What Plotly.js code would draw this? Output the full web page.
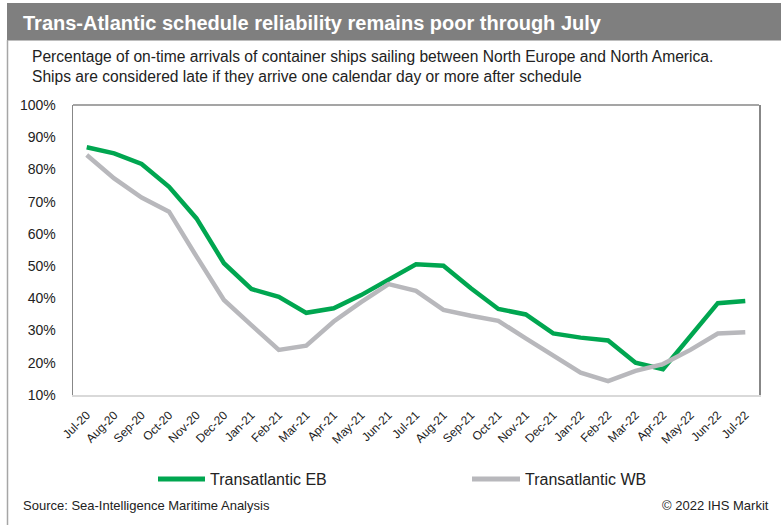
<!DOCTYPE html>
<html>
<head>
<meta charset="utf-8">
<script src="https://cdn.plot.ly/plotly-3.0.1.min.js"></script>
<style>
  html, body { margin: 0; padding: 0; background: #ffffff; }
  #chart { width: 781px; height: 527px; }
</style>
</head>
<body>
<div id="chart"></div>
<script>
// ---- Data ----
const months = ["Jul-20","Aug-20","Sep-20","Oct-20","Nov-20","Dec-20","Jan-21","Feb-21","Mar-21","Apr-21","May-21","Jun-21","Jul-21","Aug-21","Sep-21","Oct-21","Nov-21","Dec-21","Jan-22","Feb-22","Mar-22","Apr-22","May-22","Jun-22","Jul-22"];
const transatlanticEB = [86.9, 85.0, 81.7, 74.6, 64.8, 50.9, 42.9, 40.5, 35.5, 36.9, 41.0, 45.7, 50.6, 50.1, 43.1, 36.7, 35.0, 29.1, 27.8, 26.9, 20.0, 18.0, 28.1, 38.5, 39.2];
const transatlanticWB = [84.5, 77.2, 71.3, 66.9, 53.0, 39.5, 31.7, 24.0, 25.3, 32.8, 38.8, 44.4, 42.3, 36.4, 34.6, 33.0, 27.6, 22.2, 16.9, 14.3, 17.5, 19.6, 24.0, 29.1, 29.5];
const yTicks = [10, 20, 30, 40, 50, 60, 70, 80, 90, 100];
const seriesNames = ["Transatlantic EB", "Transatlantic WB"];
const seriesColors = ["#00a650", "#b8b8bc"];

// ---- Geometry helpers (pixel -> paper) ----
const W = 781, H = 527;
const L = 73, R = 759, T = 105, B = 395;
const px = x => (x - L) / (R - L);
const py = y => (B - y) / (B - T);

const FONT = "Liberation Sans, Arial, sans-serif";

const traces = [
  {
    x: months, y: transatlanticEB, type: "scatter", mode: "lines",
    name: seriesNames[0], showlegend: false,
    line: { color: seriesColors[0], width: 4.5 }
  },
  {
    x: months, y: transatlanticWB, type: "scatter", mode: "lines",
    name: seriesNames[1], showlegend: false,
    line: { color: seriesColors[1], width: 4.5 }
  }
];

// custom legend placement (Excel-style long line keys)
const legendKeys = [
  { x0: 158, x1: 205, tx: 208 },
  { x0: 472, x1: 520, tx: 523 }
];
const legendY = 479;

const layout = {
  width: W, height: H,
  margin: { l: L, r: W - R, t: T, b: H - B, pad: 0 },
  paper_bgcolor: "#ffffff",
  plot_bgcolor: "#ffffff",
  showlegend: false,
  font: { family: FONT, color: "#222222" },
  title: {
    text: "<b>Trans-Atlantic schedule reliability remains poor through July</b>",
    font: { family: FONT, size: 20, color: "#ffffff" },
    xref: "container", yref: "container",
    x: 23 / W, xanchor: "left",
    y: 1 - 22.5 / H, yanchor: "middle"
  },
  xaxis: {
    type: "category",
    range: [-0.5, months.length - 0.5],
    tickangle: -45,
    tickfont: { family: FONT, size: 12, color: "#222222" },
    showgrid: false, zeroline: false,
    showline: true, linecolor: "#d9d9d9", linewidth: 1.5,
    ticks: "outside", ticklen: 7, tickcolor: "rgba(0,0,0,0)",
    fixedrange: true
  },
  yaxis: {
    range: [10, 100],
    tickvals: yTicks,
    ticktext: yTicks.map(v => v + "%"),
    tickfont: { family: FONT, size: 14, color: "#222222" },
    showgrid: false, zeroline: false,
    showline: true, mirror: true, linecolor: "#878787", linewidth: 1.5,
    ticks: "outside", ticklen: 13, tickcolor: "rgba(0,0,0,0)",
    fixedrange: true
  },
  shapes: [
    // title bar
    { type: "rect", xref: "paper", yref: "paper",
      x0: px(7), x1: px(781), y0: py(40.5), y1: py(3),
      fillcolor: "#7f7f7f", line: { width: 0 }, layer: "below" },
    // left page border
    { type: "line", xref: "paper", yref: "paper",
      x0: px(7.5), x1: px(7.5), y0: py(40), y1: py(525),
      line: { color: "#a6a6a6", width: 1.5 } },
    // top plot frame
    { type: "line", xref: "paper", yref: "paper",
      x0: 0, x1: 1, y0: 1, y1: 1,
      line: { color: "#878787", width: 1.5 } }
  ].concat(legendKeys.map((k, i) => ({
      type: "line", xref: "paper", yref: "paper",
      x0: px(k.x0), x1: px(k.x1), y0: py(legendY), y1: py(legendY),
      line: { color: seriesColors[i], width: 5 }
  }))),
  annotations: [
    { text: "Percentage of on-time arrivals of container ships sailing between North Europe and North America.<br>Ships are considered late if they arrive one calendar day or more after schedule",
      xref: "paper", yref: "paper", x: px(30), y: py(67),
      xanchor: "left", yanchor: "middle", align: "left", showarrow: false,
      font: { family: FONT, size: 15.6, color: "#222222" } },
    { text: "Source: Sea-Intelligence Maritime Analysis",
      xref: "paper", yref: "paper", x: px(21), y: py(505.5),
      xanchor: "left", yanchor: "middle", showarrow: false,
      font: { family: FONT, size: 13, color: "#222222" } },
    { text: "© 2022 IHS Markit",
      xref: "paper", yref: "paper", x: px(771), y: py(505.5),
      xanchor: "right", yanchor: "middle", showarrow: false,
      font: { family: FONT, size: 13, color: "#222222" } }
  ].concat(legendKeys.map((k, i) => ({
      text: seriesNames[i],
      xref: "paper", yref: "paper", x: px(k.tx), y: py(legendY),
      xanchor: "left", yanchor: "middle", showarrow: false,
      font: { family: FONT, size: 16, color: "#222222" }
  })))
};

Plotly.newPlot("chart", traces, layout, { displayModeBar: false, staticPlot: true });
</script>
</body>
</html>
